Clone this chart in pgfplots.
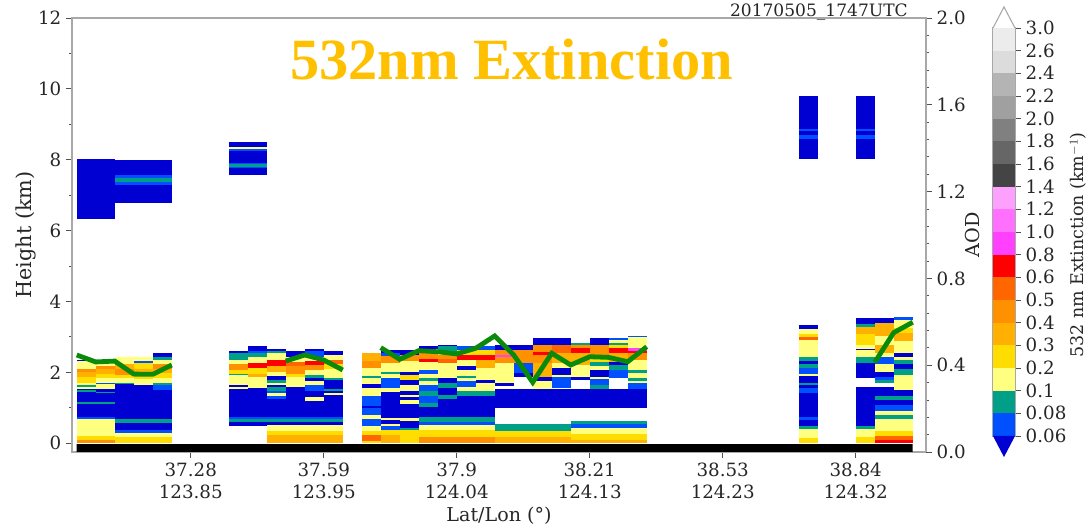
\documentclass[border=0pt]{standalone}
\usepackage{fontspec}
\setmainfont{DejaVu Serif}
\newfontfamily\titlefont{Liberation Serif}
\usepackage{pgfplots}
\usepackage{pgfplotstable}
\pgfplotsset{compat=1.18}
\definecolor{deepb}{HTML}{0000D2}
\definecolor{titleor}{HTML}{FFC000}
\definecolor{spine}{HTML}{A8A8A8}
\definecolor{tickc}{HTML}{505050}
\definecolor{aodg}{HTML}{0A8A0A}
\pgfplotsset{
  extmap/.style={colormap={ext}{
    rgb255(0)=(0,0,210); rgb255(1)=(0,80,255); rgb255(2)=(0,160,136); rgb255(3)=(255,255,128);
    rgb255(4)=(255,221,0); rgb255(5)=(255,176,0); rgb255(6)=(255,144,0); rgb255(7)=(255,102,0);
    rgb255(8)=(255,0,0); rgb255(9)=(255,64,255); rgb255(10)=(255,112,255); rgb255(11)=(255,160,255);
    rgb255(12)=(68,68,68); rgb255(13)=(102,102,102); rgb255(14)=(128,128,128); rgb255(15)=(160,160,160);
    rgb255(16)=(180,180,180); rgb255(17)=(220,220,220); rgb255(18)=(236,236,236)},
    point meta min=0, point meta max=18},
  frame/.style={axis line style={spine,line width=1pt},
    tick style={tickc,line width=0.6pt}, tick align=outside,
    major tick length=4.5pt, minor tick length=2.4pt,
    tick label style={font=\fontsize{13.7}{16.3}\selectfont, text=black!85},
    label style={text=black!85}},
}
\pgfplotstableread{
k y0 y1 c
0 6.34 8.03 0
1 6.34 8.03 0
2 6.78 7.30 0
2 7.30 7.37 1
2 7.37 7.49 2
2 7.49 7.56 1
2 7.56 7.99 0
3 6.78 7.30 0
3 7.30 7.37 1
3 7.37 7.49 2
3 7.49 7.56 1
3 7.56 7.99 0
4 6.78 7.30 0
4 7.30 7.37 1
4 7.37 7.49 2
4 7.49 7.56 1
4 7.56 7.99 0
8 7.56 7.78 0
8 7.78 7.80 1
8 7.80 7.89 2
8 7.89 7.92 1
8 7.92 8.24 0
8 8.24 8.31 1
8 8.31 8.37 3
8 8.37 8.50 0
9 7.56 7.78 0
9 7.78 7.80 1
9 7.80 7.89 2
9 7.89 7.92 1
9 7.92 8.24 0
9 8.24 8.31 1
9 8.31 8.37 3
9 8.37 8.50 0
38 8.03 8.58 0
38 8.58 8.69 1
38 8.69 8.82 0
38 8.82 8.88 1
38 8.88 9.79 0
41 8.03 8.58 0
41 8.58 8.69 1
41 8.69 8.82 0
41 8.82 8.88 1
41 8.88 9.79 0
0 0 .09 6
0 .09 .21 4
0 .21 .69 3
0 .69 .75 1
0 .75 1.10 0
0 1.10 1.17 2
0 1.17 1.45 0
0 1.45 1.50 2
0 1.50 1.53 0
0 1.53 1.58 3
0 1.58 1.64 2
0 1.64 1.70 3
0 1.70 1.87 4
0 1.87 2.00 5
0 2.00 2.10 6
0 2.10 2.31 3
0 2.31 2.36 0
1 0 .09 6
1 .09 .21 4
1 .21 .69 3
1 .69 .75 1
1 .75 1.10 0
1 1.10 1.17 2
1 1.17 1.42 0
1 1.42 1.45 2
1 1.45 1.53 0
1 1.53 1.66 3
1 1.66 1.70 1
1 1.70 1.84 3
1 1.84 1.96 4
1 1.96 2.09 5
1 2.09 2.19 6
1 2.19 2.31 3
2 0 .17 4
2 .17 .30 3
2 .30 .36 1
2 .36 .57 0
2 .57 .68 2
2 .68 1.66 0
2 1.66 1.70 2
2 1.70 1.84 3
2 1.84 1.93 4
2 1.93 2.08 6
2 2.08 2.22 5
2 2.22 2.43 3
3 0 .17 4
3 .17 .30 3
3 .30 .36 1
3 .36 .57 0
3 .57 .68 2
3 .68 1.65 0
3 1.65 1.81 3
3 1.81 1.98 4
3 1.98 2.10 5
3 2.10 2.25 4
3 2.25 2.33 1
3 2.33 2.43 3
4 0 .17 4
4 .17 .30 3
4 .30 .36 1
4 .36 .57 0
4 .57 .68 2
4 .68 1.49 0
4 1.49 1.65 1
4 1.65 1.70 2
4 1.70 1.84 3
4 1.84 1.98 4
4 1.98 2.10 5
4 2.10 2.24 6
4 2.24 2.36 3
4 2.36 2.43 2
4 2.43 2.55 0
8 .49 .61 0
8 .61 .69 2
8 .69 .75 1
8 .75 1.53 0
8 1.53 1.58 3
8 1.58 1.65 0
8 1.65 1.92 3
8 1.92 1.96 2
8 1.96 2.06 4
8 2.06 2.22 6
8 2.22 2.36 3
8 2.36 2.55 2
8 2.55 2.61 0
9 .49 .61 0
9 .61 .69 2
9 .69 .75 1
9 .75 1.56 0
9 1.56 1.87 3
9 1.87 1.96 5
9 1.96 2.12 4
9 2.12 2.26 8
9 2.26 2.43 3
9 2.43 2.55 2
9 2.55 2.60 1
9 2.60 2.74 0
10 0 .24 5
10 .24 .33 4
10 .33 .51 3
10 .51 .61 0
10 .61 .68 2
10 .68 .74 1
10 .74 1.25 0
10 1.25 1.34 1
10 1.34 1.41 3
10 1.41 1.46 1
10 1.46 1.58 2
10 1.58 1.64 0
10 1.64 1.70 3
10 1.70 1.79 2
10 1.79 1.89 0
10 1.89 2.01 3
10 2.01 2.19 5
10 2.19 2.34 8
10 2.34 2.55 3
10 2.55 2.61 2
10 2.61 2.67 0
11 0 .24 5
11 .24 .33 4
11 .33 .51 3
11 .51 .61 0
11 .61 .68 2
11 .68 .74 1
11 .74 1.58 0
11 1.58 1.87 3
11 1.87 1.94 4
11 1.94 2.17 6
11 2.17 2.28 7
11 2.28 2.44 3
11 2.44 2.61 0
12 0 .24 5
12 .24 .33 4
12 .33 .51 3
12 .51 .61 0
12 .61 .68 2
12 .68 .74 1
12 .74 1.18 0
12 1.18 1.30 3
12 1.30 1.46 0
12 1.46 1.65 1
12 1.65 1.75 3
12 1.75 1.84 0
12 1.84 1.92 2
12 1.92 2.06 3
12 2.06 2.20 6
12 2.20 2.31 8
12 2.31 2.43 3
12 2.43 2.61 1
12 2.61 2.67 0
13 0 .24 5
13 .24 .33 4
13 .33 .51 3
13 .51 .61 0
13 .61 .68 2
13 .68 .74 1
13 .74 1.35 0
13 1.35 1.41 3
13 1.41 1.46 0
13 1.46 1.52 2
13 1.52 1.79 0
13 1.79 1.84 2
13 1.84 2.08 3
13 2.08 2.22 4
13 2.22 2.36 7
13 2.36 2.50 3
13 2.50 2.61 0
15 0 .07 4
15 .07 .23 7
15 .23 .35 4
15 .35 .48 3
15 .48 .67 1
15 .67 .79 3
15 .79 .98 1
15 .98 1.05 0
15 1.05 1.33 1
15 1.33 1.55 3
15 1.55 1.67 0
15 1.67 1.83 3
15 1.83 1.90 2
15 1.90 2.11 3
15 2.11 2.33 6
15 2.33 2.54 5
16 0 .23 5
16 .23 .37 4
16 .37 .48 1
16 .48 .54 3
16 .54 .65 0
16 .65 .70 3
16 .70 1.45 0
16 1.45 1.55 3
16 1.55 1.83 1
16 1.83 1.95 3
16 1.95 2.02 2
16 2.02 2.25 3
16 2.25 2.46 6
16 2.46 2.54 1
16 2.54 2.63 0
17 0 .37 4
17 .37 .44 2
17 .44 .63 0
17 .63 .70 3
17 .70 1.10 0
17 1.10 1.22 3
17 1.22 1.29 0
17 1.29 1.36 3
17 1.36 1.48 0
17 1.48 1.64 3
17 1.64 1.78 0
17 1.78 1.92 4
17 1.92 2.02 0
17 2.02 2.33 3
17 2.33 2.49 6
17 2.49 2.63 0
18 0 .18 6
18 .18 .37 4
18 .37 .51 3
18 .51 .60 1
18 .60 .75 2
18 .75 1.01 0
18 1.01 1.14 2
18 1.14 1.33 1
18 1.33 1.48 2
18 1.48 1.64 1
18 1.64 1.76 3
18 1.76 1.83 2
18 1.83 1.95 3
18 1.95 2.07 1
18 2.07 2.30 3
18 2.30 2.37 8
18 2.37 2.54 6
18 2.54 2.65 3
18 2.65 2.73 0
19 0 .18 6
19 .18 .37 4
19 .37 .51 3
19 .51 .60 1
19 .60 .75 2
19 .75 1.26 0
19 1.26 1.36 2
19 1.36 1.55 0
19 1.55 1.69 2
19 1.69 1.83 0
19 1.83 2.25 3
19 2.25 2.37 7
19 2.37 2.49 6
19 2.49 2.58 3
19 2.58 2.73 2
19 2.73 2.77 0
20 0 .18 6
20 .18 .37 4
20 .37 .51 3
20 .51 .60 1
20 .60 .75 2
20 .75 1.33 0
20 1.33 1.48 2
20 1.48 1.59 3
20 1.59 1.76 1
20 1.76 1.83 3
20 1.83 1.90 2
20 1.90 2.07 3
20 2.07 2.18 0
20 2.18 2.35 3
20 2.35 2.49 8
20 2.49 2.63 4
20 2.63 2.75 1
21 0 .18 6
21 .18 .37 4
21 .37 .51 3
21 .51 .60 1
21 .60 .75 2
21 .75 1.33 0
21 1.33 1.48 2
21 1.48 1.69 3
21 1.69 1.78 0
21 1.78 2.11 3
21 2.11 2.35 5
21 2.35 2.49 8
21 2.49 2.63 4
21 2.63 2.75 1
22 0 .18 5
22 .18 .34 4
22 .34 .54 2
22 .98 1.53 0
22 1.62 1.69 0
22 1.69 2.25 3
22 2.25 2.44 6
22 2.44 2.49 9
22 2.49 2.63 6
22 2.63 2.77 0
23 0 .18 5
23 .18 .34 4
23 .34 .54 2
23 .98 1.53 0
23 1.88 1.99 0
23 1.99 2.25 1
23 2.25 2.63 6
23 2.63 2.77 0
24 0 .18 5
24 .18 .34 4
24 .34 .54 2
24 .98 1.53 0
24 1.53 1.74 3
24 1.74 1.88 0
24 1.88 2.25 5
24 2.25 2.49 6
24 2.49 2.58 8
24 2.58 2.77 6
24 2.77 2.96 0
25 0 .18 5
25 .18 .34 4
25 .34 .54 2
25 .98 1.53 0
25 1.55 1.86 1
25 1.86 1.92 3
25 1.92 2.11 0
25 2.11 2.25 3
25 2.25 2.54 5
25 2.54 2.77 7
25 2.77 2.96 0
26 0 .10 5
26 .10 .27 4
26 .27 .44 3
26 .44 .54 1
26 .54 .62 2
26 .98 1.53 0
26 1.78 1.88 0
26 1.88 2.21 3
26 2.21 2.54 5
26 2.54 2.68 8
26 2.68 2.77 6
26 2.77 2.84 2
27 0 .10 5
27 .10 .27 4
27 .27 .44 3
27 .44 .54 1
27 .54 .62 2
27 .98 1.53 0
27 1.53 1.64 2
27 1.64 1.80 1
27 1.80 1.88 3
27 1.88 2.07 0
27 2.07 2.18 3
27 2.18 2.30 2
27 2.30 2.49 4
27 2.49 2.77 6
27 2.77 2.96 0
28 0 .10 5
28 .10 .27 4
28 .27 .44 3
28 .44 .54 1
28 .54 .62 2
28 .98 1.53 0
28 1.83 2.07 1
28 2.07 2.21 2
28 2.21 2.30 0
28 2.30 2.54 5
28 2.54 2.68 8
28 2.68 2.77 4
28 2.77 2.84 2
28 2.84 2.92 3
28 2.92 2.96 1
29 0 .10 5
29 .10 .27 4
29 .27 .44 3
29 .44 .54 1
29 .54 .62 2
29 .98 1.53 0
29 1.53 1.69 1
29 1.69 1.76 3
29 1.76 1.83 2
29 1.83 1.97 3
29 1.97 2.07 2
29 2.07 2.35 3
29 2.35 2.54 6
29 2.54 2.60 8
29 2.60 2.68 9
29 2.68 2.99 3
29 2.99 3.03 1
38 0 .14 4
38 .14 .40 3
38 .40 .49 2
38 .49 .64 0
38 .64 .75 1
38 .75 1.42 0
38 1.42 1.56 1
38 1.56 1.65 0
38 1.65 1.70 2
38 1.70 1.89 0
38 1.89 1.96 3
38 1.96 2.12 1
38 2.12 2.22 2
38 2.22 2.31 0
38 2.31 2.43 2
38 2.43 2.91 3
38 2.91 3.00 7
38 3.00 3.07 4
38 3.07 3.21 3
38 3.21 3.34 0
41 0 .17 4
41 .17 .40 3
41 .40 .49 2
41 .49 1.58 0
41 1.84 2.26 0
41 2.26 2.43 2
41 2.43 2.62 3
41 2.62 2.66 0
41 2.66 2.78 3
41 2.78 3.07 4
41 3.07 3.28 5
41 3.28 3.35 2
41 3.35 3.52 0
42 0 .09 8
42 .09 .19 7
42 .19 .33 4
42 .33 .68 3
42 .68 .80 2
42 .80 .90 3
42 .90 1.08 1
42 1.08 1.23 0
42 1.23 1.34 2
42 1.34 1.58 0
42 1.69 1.79 2
42 1.79 1.87 1
42 1.87 2.00 0
42 2.00 2.22 3
42 2.22 2.43 1
42 2.43 2.54 3
42 2.54 2.78 5
42 2.78 3.02 3
42 3.02 3.40 5
42 3.40 3.52 0
43 0 .09 8
43 .09 .19 7
43 .19 .33 4
43 .33 .68 3
43 .68 .80 2
43 .80 .90 3
43 .90 1.08 1
43 1.08 1.23 0
43 1.23 1.34 2
43 1.34 1.51 0
43 1.51 1.91 3
43 1.91 2.08 2
43 2.08 2.22 0
43 2.22 2.34 2
43 2.34 2.43 3
43 2.43 2.54 0
43 2.54 2.88 3
43 2.88 3.11 5
43 3.11 3.25 4
43 3.25 3.48 3
43 3.48 3.56 1
}\cells
\pgfplotstableread{
y c
0 1
1 2
2 3
3 4
4 5
5 6
6 7
7 8
8 9
9 10
10 11
11 12
12 13
13 14
14 15
15 16
16 17
17 18
}\bars
\begin{document}
\begin{tikzpicture}
\path[use as bounding box] (0,0) rectangle (817.5pt,396.75pt);
\begin{axis}[
  at={(54pt,57.75pt)}, anchor=south west, scale only axis,
  width=640.5pt, height=325.5pt,
  frame, extmap,
  xmin=-0.25, xmax=44.7, ymin=-0.25, ymax=12,
  xtick={6,13,20,27,34,41},
  xticklabels={{37.28\\123.85},{37.59\\123.95},{37.9\\124.04},{38.21\\124.13},{38.53\\124.23},{38.84\\124.32}},
  xticklabel style={align=center},
  xtick pos=bottom, ytick pos=left,
  ytick={0,2,4,6,8,10,12}, yticklabels={0,2,4,6,8,10,12},
  minor y tick num=1,
  xlabel={Lat/Lon (°)}, ylabel={Height (km)},
  xlabel style={at={(axis description cs:0.5,-0.147)},anchor=center,font=\fontsize{14.3}{16}\selectfont},
  ylabel style={at={(axis description cs:-0.0535,0.5)},anchor=center,font=\fontsize{15.5}{17}\selectfont},
]
\addplot[quiver={u=0,v=\thisrow{y1}-\thisrow{y0},colored,every arrow/.append style={line width=14.4pt}},point meta=explicit]
  table[x expr=\thisrow{k}+0.5,y=y0,meta=c]{\cells};
\addplot[fill=black,draw=none] coordinates {(0,-0.25)(44,-0.25)(44,-0.03)(0,-0.03)(0,-0.25)};
\end{axis}
\begin{axis}[
  at={(54pt,57.75pt)}, anchor=south west, scale only axis,
  width=640.5pt, height=325.5pt,
  frame,
  xmin=-0.25, xmax=44.7, ymin=0, ymax=2,
  axis x line=none, axis y line*=right,
  ytick={0,0.4,0.8,1.2,1.6,2}, yticklabels={0.0,0.4,0.8,1.2,1.6,2.0},
  minor y tick num=4,
  ylabel={AOD},
  ylabel style={at={(axis description cs:1.0545,0.5)},anchor=center,font=\fontsize{14.4}{16}\selectfont},
]
\addplot[aodg,line width=3.6pt,line join=miter] coordinates {(0,.447)(1,.415)(2,.419)(3,.359)(4,.358)(5,.401)};
\addplot[aodg,line width=3.6pt] coordinates {(11,.419)(12,.447)(13,.424)(14,.378)};
\addplot[aodg,line width=3.6pt] coordinates {(16,.481)(17,.427)(18,.467)(19,.462)(20,.452)(21,.478)(22,.535)(23,.447)(24,.321)(25,.455)(26,.401)(27,.439)(28,.436)(29,.416)(30,.485)};
\addplot[aodg,line width=3.6pt] coordinates {(42,.413)(43,.550)(44,.598)};
\end{axis}
\begin{axis}[
  at={(744.75pt,69.75pt)}, anchor=south west, scale only axis,
  width=16.5pt, height=306pt,
  frame, extmap, clip=false,
  xmin=0, xmax=1, ymin=0, ymax=18,
  xtick=\empty, ytick pos=right,
  ytick={0,...,18},
  yticklabels={0.06,0.08,0.1,0.2,0.3,0.4,0.5,0.6,0.8,1.0,1.2,1.4,1.6,1.8,2.0,2.2,2.4,2.6,3.0},
  ylabel={532 nm Extinction (km$^{-1}$)},
  ylabel style={at={(axis description cs:3.86,0.468)},anchor=center,font=\fontsize{13.1}{15}\selectfont},
]
\addplot[quiver={u=0,v=1,colored,every arrow/.append style={line width=16.5pt}},point meta=explicit]
  table[x expr=0.5,y=y,meta=c]{\bars};
\addplot[fill=deepb,draw=none] coordinates {(0,0)(0.5,-0.93)(1,0)(0,0)};
\addplot[fill=white,draw=spine,line width=0.8pt] coordinates {(0,18)(0.5,18.93)(1,18)};
\end{axis}
\node[anchor=base,text=titleor,font=\titlefont\bfseries\fontsize{43.8}{50}\selectfont] at (383.6pt,336.75pt) {532nm Extinction};
\node[anchor=base east,inner sep=0pt,text=black!85,font=\fontsize{12.8}{15}\selectfont] at (681pt,384pt) {20170505\_1747UTC};
\end{tikzpicture}
\end{document}
